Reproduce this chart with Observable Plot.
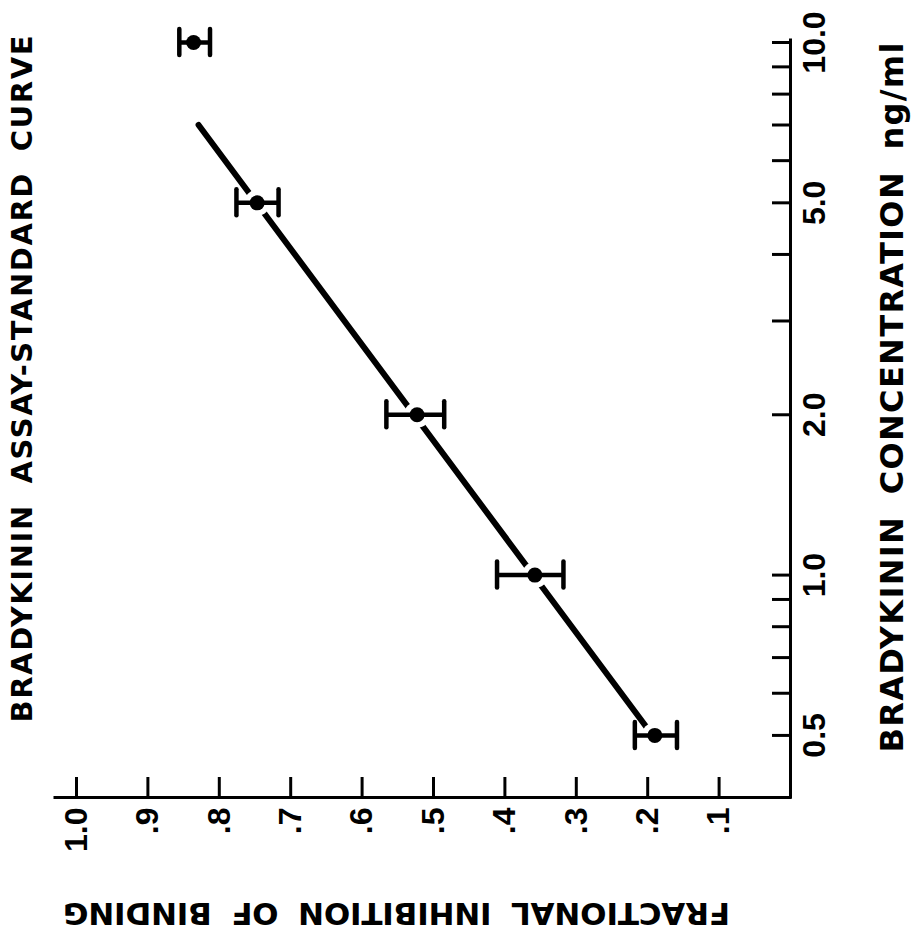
<!DOCTYPE html>
<html>
<head>
<meta charset="utf-8">
<script src="https://cdn.jsdelivr.net/npm/d3@7"></script>
<script src="https://cdn.jsdelivr.net/npm/@observablehq/plot@0.6"></script>
<style>
  html, body { margin: 0; padding: 0; background: #fff; }
  #chart svg { display: block; }
</style>
</head>
<body>
<div id="chart"></div>
<script>
// ---- data ----
const concentrations = [0.5, 1.0, 2.0, 5.0, 10.0];          // ng/ml
const meanInhibition = [0.190, 0.358, 0.523, 0.747, 0.836];
const lowerBound     = [0.159, 0.318, 0.485, 0.717, 0.813];
const upperBound     = [0.218, 0.411, 0.566, 0.776, 0.856];

const fitConcentration = [0.5, 7.0];
const fitInhibition    = [0.193, 0.829];

const concTicks  = [0.5, 0.6, 0.7, 0.8, 0.9, 1, 2, 3, 4, 5, 6, 7, 8, 9, 10];
const concLabels = [0.5, 1, 2, 5, 10];
const inhibitionTicks = [0.1, 0.2, 0.3, 0.4, 0.5, 0.6, 0.7, 0.8, 0.9, 1.0];

const titleText  = "BRADYKININ ASSAY-STANDARD CURVE";
const xTitleText = "BRADYKININ CONCENTRATION ng/ml";
const yTitleText = "FRACTIONAL INHIBITION OF BINDING";

// ---- build tables ----
const points = concentrations.map((c, i) => ({
  conc: c, mean: meanInhibition[i], lo: lowerBound[i], hi: upperBound[i]
}));
const fit = fitConcentration.map((c, i) => ({conc: c, v: fitInhibition[i]}));

const W = 913, H = 938;
const mL = 55, mR = 123, mT = 40, mB = 141;
const frameW = W - mL - mR, frameH = H - mT - mB;
const yDomain = [0.3823, 10.087];

const font = "'Liberation Sans', Arial, sans-serif";
const titleFont = "'DejaVu Sans', Verdana, sans-serif";

const chart = Plot.plot({
  width: W, height: H,
  marginLeft: mL, marginRight: mR, marginTop: mT, marginBottom: mB,
  style: {fontFamily: font, background: "#fff", color: "#000"},
  x: {type: "linear", domain: [0, 1.0294], reverse: true, axis: null},
  y: {type: "log", domain: yDomain, axis: null},
  marks: [
    // axes lines
    Plot.ruleY([yDomain[0]], {stroke: "#000", strokeWidth: 3, strokeLinecap: "square"}),
    Plot.ruleX([0], {stroke: "#000", strokeWidth: 3, strokeLinecap: "square"}),
    // ticks (inward)
    Plot.tickY(concTicks, {y: d => d, insetLeft: frameW - 18, stroke: "#000", strokeWidth: 3}),
    Plot.tickX(inhibitionTicks, {x: d => d, insetTop: frameH - 20, stroke: "#000", strokeWidth: 3}),
    // tick labels
    Plot.text(concLabels, {
      y: d => d, text: d => d.toFixed(1), frameAnchor: "right", dx: 24,
      rotate: -90, textAnchor: "middle", lineAnchor: "middle",
      fontSize: 32, fontWeight: "bold", fill: "#000"
    }),
    Plot.text(inhibitionTicks, {
      x: d => d, text: d => d === 1 ? "1.0" : "." + Math.round(d * 10),
      frameAnchor: "bottom", dy: 10,
      rotate: -90, textAnchor: "end", lineAnchor: "middle",
      fontSize: 32, fontWeight: "bold", fill: "#000"
    }),
    // regression line
    Plot.line(fit, {x: "v", y: "conc", stroke: "#000", strokeWidth: 6, strokeLinecap: "round"}),
    // white halo around points
    Plot.dot(points, {x: "mean", y: "conc", r: 13, fill: "#fff", stroke: "none"}),
    // error bars
    Plot.ruleY(points, {y: "conc", x1: "lo", x2: "hi", stroke: "#000", strokeWidth: 4.5}),
    Plot.ruleX(points, {x: "lo", y1: "conc", y2: "conc", insetTop: -13, insetBottom: -13, stroke: "#000", strokeWidth: 4.5, strokeLinecap: "round"}),
    Plot.ruleX(points, {x: "hi", y1: "conc", y2: "conc", insetTop: -13, insetBottom: -13, stroke: "#000", strokeWidth: 4.5, strokeLinecap: "round"}),
    // points
    Plot.dot(points, {x: "mean", y: "conc", r: 7.5, fill: "#000", stroke: "none"}),
    // titles
    Plot.text([titleText], {
      text: d => d, frameAnchor: "left", dx: -33, dy: -40, rotate: -90,
      textAnchor: "middle", lineAnchor: "middle", fontSize: 29, fontWeight: "bold",
      fontFamily: titleFont, fill: "#000"
    }),
    Plot.text([xTitleText], {
      text: d => d, frameAnchor: "right", dx: 102, dy: -21.5, rotate: -90,
      textAnchor: "middle", lineAnchor: "middle", fontSize: 32, fontWeight: "bold",
      fontFamily: titleFont, fill: "#000"
    }),
    Plot.text([yTitleText], {
      text: d => d, frameAnchor: "bottom", dx: -26.5, dy: 115, rotate: 180,
      textAnchor: "middle", lineAnchor: "middle", fontSize: 31, fontWeight: "bold",
      fontFamily: titleFont, fill: "#000"
    })
  ]
});

// stretch titles to the letter-spaced lengths of the original
const fitLen = new Map([[titleText, 687], [xTitleText, 710], [yTitleText, 667]]);
chart.querySelectorAll("text").forEach(t => {
  const len = fitLen.get(t.textContent);
  if (len) {
    t.setAttribute("word-spacing", "9");
    t.setAttribute("textLength", len);
    t.setAttribute("lengthAdjust", "spacing");
  }
});

document.getElementById("chart").appendChild(chart);
</script>
</body>
</html>
